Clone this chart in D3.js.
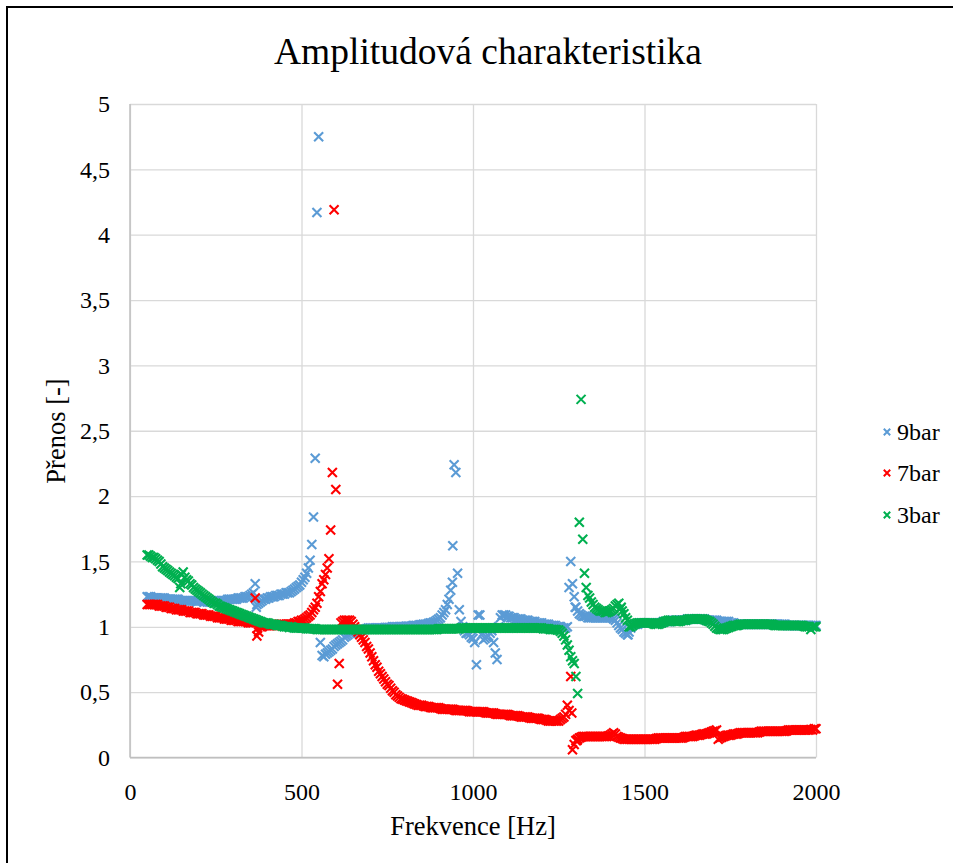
<!DOCTYPE html>
<html><head><meta charset="utf-8">
<script src="https://cdn.jsdelivr.net/npm/d3@7"></script>
<style>body{margin:0;background:#fff}svg text{font-family:"Liberation Serif","Times New Roman",serif;fill:#000}</style>
</head><body>
<svg id="c" width="953" height="863"></svg>
<script>
// ---------- DATA ----------
const title = "Amplitudová charakteristika";
const xTitle = "Frekvence [Hz]";
const yTitle = "Přenos [-]";
const seriesNames = ["9bar", "7bar", "3bar"];
const seriesColors = ["#5B9BD5", "#FF0000", "#00B050"];
const xTicks = [0, 500, 1000, 1500, 2000];
const yTicks = [0, 0.5, 1, 1.5, 2, 2.5, 3, 3.5, 4, 4.5, 5];

// frequency grid [Hz]
const freqs = [
  50,60,70,80,90,100,110,120,130,140,
  150,160,170,180,190,200,210,220,230,240,
  250,260,270,280,290,300,310,320,330,340,
  350,360,370,380,390,400,410,420,430,440,
  450,460,470,480,490,500,510,520,530,540,
  550,560,570,580,590,600,610,620,630,640,
  650,660,670,680,690,700,710,720,730,740,
  750,760,770,780,790,800,810,820,830,840,
  850,860,870,880,890,900,910,920,930,940,
  950,960,970,980,990,1000,1010,1020,1030,1040,
  1050,1060,1070,1080,1090,1100,1110,1120,1130,1140,
  1150,1160,1170,1180,1190,1200,1210,1220,1230,1240,
  1250,1260,1270,1280,1290,1300,1310,1320,1330,1340,
  1350,1360,1370,1380,1390,1400,1410,1420,1430,1440,
  1450,1460,1470,1480,1490,1500,1510,1520,1530,1540,
  1550,1560,1570,1580,1590,1600,1610,1620,1630,1640,
  1650,1660,1670,1680,1690,1700,1710,1720,1730,1740,
  1750,1760,1770,1780,1790,1800,1810,1820,1830,1840,
  1850,1860,1870,1880,1890,1900,1910,1920,1930,1940,
  1950,1960,1970,1980,1990,2000];
// in-between frequencies [Hz]
const freqsMid = [
  55,65,75,85,95,105,115,125,135,145,
  155,165,175,185,195,205,215,225,235,245,
  255,265,275,285,295,305,315,325,335,345,
  355,365,375,385,395,405,415,425,435,445,
  455,465,475,485,495,505,515,525,535,545,
  555,565,575,585,595,605,615,625,635,645,
  655,665,675,685,695,705,715,725,735,745,
  755,765,775,785,795,805,815,825,835,845,
  855,865,875,885,895,905,915,925,935,945,
  955,965,975,985,995,1005,1015,1025,1035,1045,
  1055,1065,1075,1085,1095,1105,1115,1125,1135,1145,
  1155,1165,1175,1185,1195,1205,1215,1225,1235,1245,
  1255,1265,1275,1285,1295,1305,1315,1325,1335,1345,
  1355,1365,1375,1385,1395,1405,1415,1425,1435,1445,
  1455,1465,1475,1485,1495,1505,1515,1525,1535,1545,
  1555,1565,1575,1585,1595,1605,1615,1625,1635,1645,
  1655,1665,1675,1685,1695,1705,1715,1725,1735,1745,
  1755,1765,1775,1785,1795,1805,1815,1825,1835,1845,
  1855,1865,1875,1885,1895,1905,1915,1925,1935,1945,
  1955,1965,1975,1985,1995];

// 9bar
const val9 = [
  1.23,1.23,1.22,1.22,1.22,1.22,1.21,1.21,1.21,1.21,
  1.20,1.20,1.20,1.20,1.20,1.20,1.20,1.20,1.19,1.19,
  1.20,1.20,1.20,1.20,1.21,1.21,1.21,1.22,1.22,1.23,
  1.24,1.26,1.17,1.19,1.21,1.22,1.23,1.23,1.24,1.25,
  1.25,1.26,1.27,1.29,1.31,1.34,1.38,1.45,1.63,2.29,
  4.75,0.78,0.79,0.81,0.83,0.86,0.88,0.90,0.93,0.95,
  0.96,0.97,0.98,0.98,0.985,0.99,0.99,0.99,0.99,0.99,
  0.995,0.995,1.0,1.0,1.0,1.0,1.005,1.005,1.01,1.01,
  1.015,1.02,1.025,1.03,1.04,1.06,1.09,1.13,1.21,1.34,
  2.18,1.13,1.00,0.95,0.94,0.91,0.71,1.09,0.90,0.92,
  0.95,0.88,0.75,1.07,1.09,1.08,1.07,1.07,1.06,1.06,
  1.05,1.05,1.04,1.04,1.03,1.03,1.02,1.02,1.01,1.01,
  1.00,0.99,0.99,1.30,1.33,1.15,1.10,1.08,1.08,1.07,
  1.07,1.07,1.07,1.07,1.07,1.07,1.06,1.03,0.99,0.96,
  0.94,0.99,1.02,1.02,1.03,1.03,1.03,1.03,1.03,1.03,
  1.03,1.04,1.04,1.05,1.05,1.05,1.05,1.05,1.06,1.06,
  1.06,1.06,1.06,1.05,1.05,1.05,1.05,1.04,1.04,1.04,
  1.03,1.03,1.02,1.02,1.02,1.02,1.02,1.02,1.02,1.02,
  1.02,1.02,1.02,1.02,1.02,1.02,1.02,1.01,1.01,1.01,
  1.01,1.01,1.01,1.01,1.01,1.01];
const mid9 = [
  1.23,1.22,1.22,1.22,1.22,1.21,1.21,1.21,1.21,1.20,
  1.20,1.20,1.20,1.20,1.19,1.20,1.19,1.19,1.19,1.20,
  1.20,1.20,1.20,1.21,1.21,1.21,1.22,1.22,1.23,1.23,
  1.25,1.33,1.18,1.20,1.21,1.22,1.23,1.24,1.24,1.25,
  1.26,1.26,1.28,1.30,1.32,1.36,1.41,1.51,1.84,4.17,
  0.88,0.77,0.80,0.82,0.85,0.87,0.89,0.92,0.94,0.95,
  0.97,0.975,0.98,0.98,0.99,0.99,0.99,0.99,0.99,0.995,
  0.995,1.0,1.0,1.0,1.0,1.005,1.005,1.01,1.01,1.015,
  1.02,1.02,1.03,1.035,1.05,1.07,1.11,1.17,1.28,2.24,
  1.41,1.04,0.97,0.95,0.92,0.88,1.09,0.94,0.91,0.93,
  0.97,0.80,1.00,1.09,1.09,1.08,1.07,1.06,1.06,1.05,
  1.05,1.04,1.04,1.03,1.03,1.02,1.02,1.01,1.01,1.00,
  1.00,0.99,1.00,1.50,1.23,1.12,1.09,1.08,1.07,1.07,
  1.07,1.07,1.07,1.07,1.07,1.07,1.05,1.01,0.98,0.95,
  0.96,1.01,1.02,1.03,1.03,1.03,1.03,1.03,1.03,1.03,
  1.04,1.04,1.04,1.05,1.05,1.05,1.05,1.06,1.06,1.06,
  1.06,1.06,1.06,1.05,1.05,1.05,1.04,1.04,1.04,1.04,
  1.03,1.02,1.02,1.02,1.02,1.02,1.02,1.02,1.02,1.02,
  1.02,1.02,1.02,1.02,1.02,1.02,1.01,1.01,1.01,1.01,
  1.01,1.01,1.01,1.01,1.01];
const extraF9 = [368, 941, 1298, 1452];
const extraV9 = [1.15, 1.62, 1.15, 0.94];

// 7bar
const val7 = [
  1.17,1.17,1.17,1.17,1.16,1.16,1.15,1.14,1.14,1.13,
  1.13,1.12,1.12,1.11,1.11,1.10,1.10,1.09,1.09,1.08,
  1.08,1.07,1.07,1.06,1.06,1.05,1.05,1.04,1.04,1.04,
  1.03,1.03,0.93,1.00,1.01,1.01,1.01,1.01,1.01,1.02,
  1.02,1.02,1.02,1.03,1.04,1.05,1.06,1.08,1.11,1.15,
  1.23,1.33,1.40,1.52,2.18,2.05,0.72,1.04,1.05,1.05,
  1.02,0.98,0.94,0.90,0.85,0.80,0.74,0.69,0.64,0.60,
  0.56,0.53,0.50,0.47,0.45,0.44,0.43,0.42,0.41,0.40,
  0.40,0.39,0.39,0.38,0.38,0.38,0.37,0.37,0.37,0.37,
  0.36,0.36,0.36,0.36,0.35,0.35,0.35,0.35,0.35,0.34,
  0.34,0.34,0.33,0.33,0.33,0.33,0.32,0.32,0.32,0.31,
  0.31,0.31,0.30,0.30,0.30,0.29,0.29,0.28,0.28,0.28,
  0.28,0.30,0.33,0.36,0.06,0.13,0.15,0.16,0.16,0.16,
  0.16,0.16,0.16,0.16,0.16,0.17,0.19,0.16,0.15,0.14,
  0.14,0.14,0.14,0.14,0.14,0.14,0.14,0.14,0.14,0.15,
  0.15,0.15,0.15,0.15,0.15,0.15,0.15,0.16,0.16,0.16,
  0.17,0.17,0.18,0.18,0.19,0.20,0.21,0.15,0.16,0.17,
  0.17,0.18,0.18,0.19,0.19,0.19,0.19,0.19,0.19,0.20,
  0.20,0.20,0.20,0.20,0.20,0.20,0.20,0.21,0.21,0.21,
  0.21,0.21,0.21,0.21,0.21,0.22];
const mid7 = [
  1.17,1.17,1.17,1.16,1.16,1.15,1.15,1.14,1.13,1.13,
  1.12,1.12,1.11,1.11,1.10,1.10,1.09,1.09,1.08,1.08,
  1.07,1.07,1.06,1.06,1.05,1.05,1.04,1.04,1.04,1.03,
  1.03,1.22,0.96,1.00,1.01,1.01,1.01,1.01,1.02,1.02,
  1.02,1.02,1.02,1.03,1.04,1.05,1.07,1.09,1.13,1.18,
  1.27,1.36,1.45,1.74,4.19,0.56,1.03,1.05,1.05,1.04,
  1.00,0.96,0.92,0.88,0.83,0.77,0.71,0.66,0.62,0.58,
  0.55,0.51,0.48,0.46,0.445,0.435,0.425,0.415,0.405,0.40,
  0.395,0.39,0.385,0.38,0.38,0.375,0.37,0.37,0.37,0.365,
  0.36,0.36,0.36,0.355,0.35,0.35,0.35,0.35,0.345,0.34,
  0.34,0.335,0.33,0.33,0.33,0.325,0.32,0.32,0.315,0.31,
  0.31,0.305,0.30,0.30,0.295,0.29,0.285,0.28,0.28,0.28,
  0.29,0.31,0.40,0.62,0.10,0.14,0.155,0.16,0.16,0.16,
  0.16,0.16,0.16,0.16,0.165,0.18,0.18,0.155,0.145,0.14,
  0.14,0.14,0.14,0.14,0.14,0.14,0.14,0.14,0.145,0.15,
  0.15,0.15,0.15,0.15,0.15,0.15,0.155,0.16,0.16,0.165,
  0.17,0.175,0.18,0.185,0.195,0.205,0.14,0.155,0.165,0.17,
  0.175,0.18,0.185,0.19,0.19,0.19,0.19,0.19,0.195,0.20,
  0.20,0.20,0.20,0.20,0.20,0.20,0.205,0.21,0.21,0.21,
  0.21,0.21,0.21,0.215,0.22];
const extraF7 = [372, 1288, 1303];
const extraV7 = [0.99, 0.34, 0.13];

// 3bar
const val3 = [
  1.55,1.54,1.53,1.51,1.48,1.45,1.43,1.41,1.39,1.37,
  1.40,1.38,1.35,1.32,1.29,1.27,1.25,1.23,1.21,1.19,
  1.18,1.16,1.15,1.14,1.13,1.12,1.11,1.10,1.09,1.08,
  1.07,1.06,1.05,1.04,1.03,1.03,1.02,1.02,1.01,1.01,
  1.00,1.00,1.00,0.99,0.99,0.99,0.99,0.985,0.985,0.985,
  0.98,0.98,0.98,0.98,0.98,0.98,0.98,0.98,0.98,0.98,
  0.98,0.98,0.98,0.98,0.98,0.98,0.98,0.98,0.98,0.98,
  0.98,0.98,0.98,0.98,0.98,0.98,0.98,0.98,0.98,0.98,
  0.98,0.98,0.98,0.98,0.98,0.985,0.985,0.985,0.985,0.985,
  0.985,0.985,0.99,0.99,0.99,0.99,0.99,0.99,0.99,0.99,
  0.99,0.99,0.99,0.99,0.99,0.99,0.99,0.99,0.99,0.99,
  0.99,0.99,0.99,0.99,0.99,0.99,0.985,0.985,0.98,0.98,
  0.975,0.95,0.90,0.82,0.74,0.62,1.80,1.67,1.30,1.22,
  1.17,1.14,1.12,1.12,1.11,1.12,1.14,1.17,1.14,1.10,
  1.05,1.00,1.02,1.03,1.03,1.03,1.03,1.03,1.02,1.02,
  1.03,1.04,1.05,1.05,1.04,1.04,1.05,1.05,1.06,1.06,
  1.06,1.06,1.06,1.05,1.04,1.02,0.99,0.98,0.98,0.99,
  1.00,1.01,1.01,1.02,1.02,1.02,1.02,1.02,1.02,1.02,
  1.02,1.02,1.02,1.01,1.01,1.01,1.01,1.01,1.01,1.01,
  1.01,1.01,1.00,1.00,1.00,1.00];
const mid3 = [
  1.55,1.53,1.52,1.50,1.46,1.44,1.42,1.40,1.38,1.30,
  1.42,1.36,1.33,1.30,1.28,1.26,1.24,1.22,1.20,1.18,
  1.17,1.155,1.145,1.135,1.125,1.115,1.105,1.095,1.085,1.075,
  1.065,1.055,1.045,1.035,1.03,1.025,1.02,1.015,1.01,1.005,
  1.0,0.995,0.995,0.99,0.99,0.99,0.985,0.985,0.985,0.98,
  0.98,0.98,0.98,0.98,0.98,0.98,0.98,0.98,0.98,0.98,
  0.98,0.98,0.98,0.98,0.98,0.98,0.98,0.98,0.98,0.98,
  0.98,0.98,0.98,0.98,0.98,0.98,0.98,0.98,0.98,0.98,
  0.98,0.98,0.98,0.98,0.98,0.985,0.985,0.985,0.985,0.985,
  0.985,0.99,0.99,0.99,0.99,0.99,0.99,0.99,0.99,0.99,
  0.99,0.99,0.99,0.99,0.99,0.99,0.99,0.99,0.99,0.99,
  0.99,0.99,0.99,0.99,0.99,0.985,0.985,0.98,0.98,0.975,
  0.965,0.93,0.86,0.77,0.72,0.49,2.74,1.41,1.24,1.19,
  1.15,1.13,1.12,1.11,1.115,1.13,1.16,1.18,1.12,1.07,
  1.00,1.01,1.025,1.03,1.03,1.03,1.03,1.025,1.02,1.025,
  1.035,1.045,1.05,1.045,1.04,1.045,1.05,1.055,1.06,1.06,
  1.06,1.06,1.055,1.045,1.03,1.005,0.985,0.98,0.985,0.995,
  1.005,1.01,1.015,1.02,1.02,1.02,1.02,1.02,1.02,1.02,
  1.02,1.02,1.015,1.01,1.01,1.01,1.01,1.01,1.01,1.01,
  1.01,1.005,1.0,0.98,1.0];
const extraF3 = [148, 1432];
const extraV3 = [1.33, 1.15];

// ---------- CHART ----------
const svg = d3.select("#c");
svg.append("rect").attr("x", 0).attr("y", 0).attr("width", 953).attr("height", 863).attr("fill", "#fff");
svg.append("rect").attr("x", 7).attr("y", 7).attr("width", 970).attr("height", 880)
  .attr("fill", "none").attr("stroke", "#000").attr("stroke-width", 2);

const x = d3.scaleLinear().domain([0, 2000]).range([130, 816]);
const y = d3.scaleLinear().domain([0, 5]).range([757.5, 104]);
const commaFmt = d => String(d).replace(".", ",");

// y grid + labels
const gy = svg.append("g").attr("transform", "translate(130,0)")
  .call(d3.axisLeft(y).tickValues(yTicks).tickSize(-(816 - 130)).tickPadding(20).tickFormat(commaFmt));
gy.select(".domain").remove();
gy.selectAll(".tick line").attr("stroke", "#d9d9d9").attr("stroke-width", 1.3);
gy.selectAll(".tick text").attr("font-size", 24).attr("font-family", "Liberation Serif").attr("fill", "#000");

// x grid + labels
const gx = svg.append("g").attr("transform", "translate(0,757.5)")
  .call(d3.axisBottom(x).tickValues(xTicks).tickSize(-(757.5 - 104)).tickPadding(20).tickFormat(d3.format("d")));
gx.select(".domain").remove();
gx.selectAll(".tick line").attr("stroke", "#d9d9d9").attr("stroke-width", 1.3);
gx.selectAll(".tick text").attr("font-size", 24).attr("font-family", "Liberation Serif").attr("fill", "#000").attr("dy", "0.95em");

// axis lines
svg.append("line").attr("x1", 130).attr("x2", 130).attr("y1", 104).attr("y2", 757.5).attr("stroke", "#bfbfbf").attr("stroke-width", 1.5);
svg.append("line").attr("x1", 130).attr("x2", 816).attr("y1", 757.5).attr("y2", 757.5).attr("stroke", "#bfbfbf").attr("stroke-width", 1.5);

// series
const series = [
  {name: seriesNames[0], color: seriesColors[0], f: freqs.concat(freqsMid, extraF9), v: val9.concat(mid9, extraV9)},
  {name: seriesNames[1], color: seriesColors[1], f: freqs.concat(freqsMid, extraF7), v: val7.concat(mid7, extraV7)},
  {name: seriesNames[2], color: seriesColors[2], f: freqs.concat(freqsMid, extraF3), v: val3.concat(mid3, extraV3)}
];
const cross = s => `M${-s},${-s}L${s},${s}M${-s},${s}L${s},${-s}`;
series.forEach(s => {
  const pts = s.f.map((f, i) => [f, s.v[i]]).sort((a, b) => a[0] - b[0]);
  svg.append("g").selectAll("path").data(pts).enter().append("path")
    .attr("d", cross(4.5))
    .attr("transform", d => `translate(${x(d[0])},${y(d[1])})`)
    .attr("stroke", s.color).attr("stroke-width", 2.1).attr("fill", "none");
});

// title
svg.append("text").attr("x", 488).attr("y", 64).attr("text-anchor", "middle")
  .attr("font-size", 37.5).text(title);
// axis titles
svg.append("text").attr("x", 473).attr("y", 835).attr("text-anchor", "middle")
  .attr("font-size", 26.5).text(xTitle);
svg.append("text").attr("transform", "translate(65,431) rotate(-90)").attr("text-anchor", "middle")
  .attr("font-size", 26.5).text(yTitle);

// legend
const legY = [432, 473, 515];
series.forEach((s, i) => {
  svg.append("path").attr("d", cross(3.2)).attr("transform", `translate(887,${legY[i]})`)
    .attr("stroke", s.color).attr("stroke-width", 2).attr("fill", "none");
  svg.append("text").attr("x", 897).attr("y", legY[i] + 8).attr("font-size", 24).text(s.name);
});
</script>
</body></html>
